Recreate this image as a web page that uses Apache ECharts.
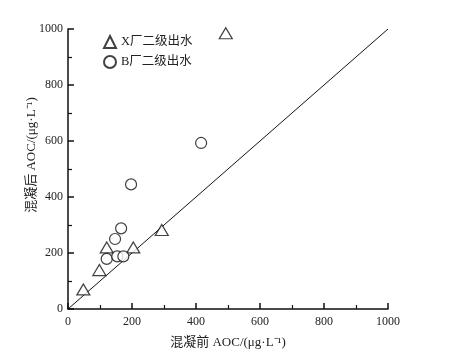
<!DOCTYPE html>
<html><head><meta charset="utf-8">
<script src="https://cdn.jsdelivr.net/npm/echarts@6/dist/echarts.min.js"></script>
<style>html,body{margin:0;padding:0;background:#fff}#c{width:453px;height:358px}</style>
</head><body><div id="c"></div>
<script>
const xTicks = [0, 200, 400, 600, 800, 1000];
const seriesNames = ['X厂二级出水', 'B厂二级出水'];
const xPlantBefore = [48, 98, 121, 204, 293, 493];
const xPlantAfter  = [70, 139, 220, 220, 282, 985];
const bPlantBefore = [121, 154, 173, 147, 166, 197, 416];
const bPlantAfter  = [179, 188, 188, 250, 288, 445, 593];
const refLine = [[0, 0], [1000, 1000]];

const font = "'Liberation Serif', 'Noto Sans CJK SC', serif";
const chart = echarts.init(document.getElementById('c'));
const axisCommon = {
  min: 0, max: 1000, interval: 200,
  nameMoveOverlap: false,
  axisLine: {show: true, onZero: false, lineStyle: {color: '#111', width: 1.5}},
  axisTick: {show: true, inside: true, length: 6, lineStyle: {color: '#111', width: 1.5}},
  minorTick: {show: true, splitNumber: 2, length: 4, lineStyle: {color: '#111', width: 1.2}},
  splitLine: {show: false},
  axisLabel: {color: '#222', fontFamily: font, fontSize: 12, formatter: v => String(v)},
  nameTextStyle: {color: '#222', fontFamily: font, fontSize: 13}
};
chart.setOption({
  animation: false,
  backgroundColor: '#fff',
  grid: {left: 68, right: 65, top: 29, bottom: 49},
  legend: {
    data: seriesNames, orient: 'vertical', left: 98, top: 30, itemGap: 6,
    itemWidth: 12, itemHeight: 12,
    textStyle: {color: '#222', fontFamily: font, fontSize: 12.5}
  },
  xAxis: Object.assign({}, axisCommon, {
    type: 'value', name: '混凝前 AOC/(μg·L⁻¹)', nameLocation: 'middle', nameGap: 27,
    axisLabel: Object.assign({}, axisCommon.axisLabel, {margin: 7})
  }),
  yAxis: Object.assign({}, axisCommon, {
    type: 'value', name: '混凝后 AOC/(μg·L⁻¹)', nameLocation: 'middle', nameGap: 30,
    nameTextStyle: Object.assign({}, axisCommon.nameTextStyle, {padding: [0, 0, 0, 28]}),
    axisLabel: Object.assign({}, axisCommon.axisLabel, {margin: 5})
  }),
  series: [
    {
      name: seriesNames[0], type: 'scatter', symbol: 'triangle', symbolSize: [13, 11],
      itemStyle: {color: '#fff', borderColor: '#111', borderWidth: 1.2},
      data: xPlantBefore.map((v, i) => [v, xPlantAfter[i]]), z: 3
    },
    {
      name: seriesNames[1], type: 'scatter', symbol: 'circle', symbolSize: 11,
      itemStyle: {color: '#fff', borderColor: '#111', borderWidth: 1.2},
      data: bPlantBefore.map((v, i) => [v, bPlantAfter[i]]), z: 3
    },
    {
      name: 'y=x', type: 'line', symbol: 'none', data: refLine,
      lineStyle: {color: '#111', width: 1}, z: 2, silent: true
    }
  ]
});
</script></body></html>
